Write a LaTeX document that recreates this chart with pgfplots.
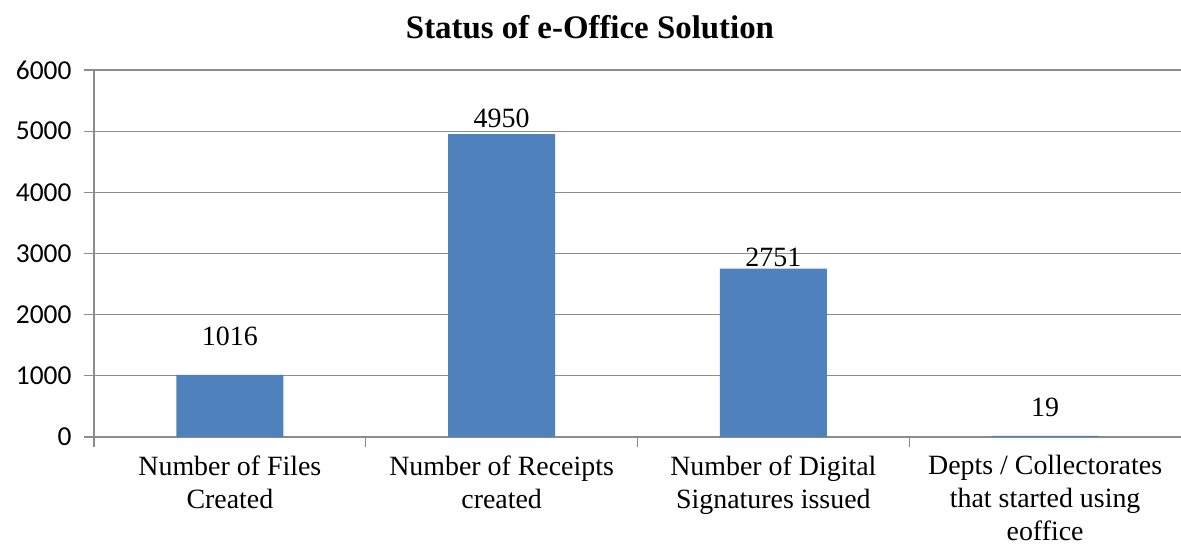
\documentclass[border=0pt]{standalone}
\usepackage{pgfplots}
\pgfplotsset{compat=1.18}
\usepackage{fontspec}
\setmainfont{Liberation Serif}
\newfontfamily\calibri{Carlito}
\definecolor{barblue}{HTML}{4F81BD}
\definecolor{axgray}{HTML}{8C8C8C}
\begin{document}
\begin{tikzpicture}
\path[use as bounding box] (-94bp,-110bp) rectangle (1087bp,437bp);
\begin{axis}[
  scale only axis, width=1087bp, height=367bp,
  anchor=south west, at={(0,0)},
  /pgf/number format/assume math mode=true,
  /pgf/number format/1000 sep={},
  ymin=0, ymax=6000, ytick={0,1000,...,6000},
  xmin=-0.5, xmax=3.5,
  axis lines=left, axis line style={-, draw=axgray, line width=1.2bp},
  ymajorgrids, grid style={draw=axgray, line width=1.2bp},
  tick align=outside, major tick length=10bp,
  tick style={draw=axgray, line width=1.2bp},
  xtick={-0.5,0.5,1.5,2.5}, xticklabels={},
  extra x ticks={0,1,2,3},
  extra x tick labels={{Number of Files\\Created},{Number of Receipts\\created},{Number of Digital\\Signatures issued},{Depts / Collectorates\\that started using\\eoffice}},
  extra x tick style={major tick length=0pt, grid=none,
    ticklabel style={align=center, font=\fontsize{28}{33}\selectfont, yshift=-15bp}},
  yticklabel style={font=\calibri\fontsize{27.5}{31}\selectfont, xshift=-9bp},
]
\addplot[ybar, bar width=107bp, fill=barblue, draw=none,
  nodes near coords,
  visualization depends on={\thisrow{off}\as\myoff},
  nodes near coords style={font=\fontsize{28}{32}\selectfont, anchor=center, yshift=\myoff bp, inner sep=0pt}]
  table[x=x, y=y] {
x y off
0 1016 38
1 4950 16
2 2751 11
3 19 28
};
\end{axis}
\node[font=\bfseries\fontsize{33}{38}\selectfont] at (496bp,410bp) {Status of e-Office Solution};
\end{tikzpicture}
\end{document}
